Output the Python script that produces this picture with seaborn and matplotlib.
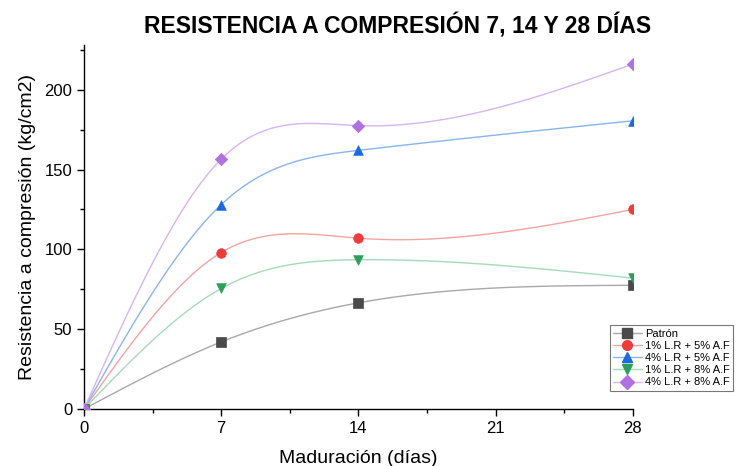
import numpy as np
import pandas as pd
import matplotlib
matplotlib.use("Agg")
import matplotlib.pyplot as plt
import seaborn as sns
from matplotlib.lines import Line2D
from matplotlib.ticker import MultipleLocator

# data
dias = [0, 7, 14, 28]
patron = [0, 42, 66.5, 77.5]
lr1_af5 = [0, 98, 107, 125]
lr4_af5 = [0, 128, 162, 180.5]
lr1_af8 = [0, 75.5, 93.5, 82]
lr4_af8 = [0, 156.5, 177.5, 216]

series = ["Patrón", "1% L.R + 5% A.F", "4% L.R + 5% A.F", "1% L.R + 8% A.F", "4% L.R + 8% A.F"]
valores = [patron, lr1_af5, lr4_af5, lr1_af8, lr4_af8]
marcadores = ["s", "o", "^", "v", "D"]
col_marca = ["#4a4a4a", "#ee3b3b", "#1a6ae0", "#2f9e5c", "#b072e0"]
col_linea = ["#a8a8a8", "#f5a3a3", "#8ab4f0", "#a6dbb8", "#d8b4f2"]


def spline_natural(x, y, n=200):
    # natural cubic spline through the data points (smooth connector like Origin)
    x = np.asarray(x, float)
    y = np.asarray(y, float)
    k = len(x)
    h = np.diff(x)
    A = np.zeros((k, k))
    b = np.zeros(k)
    A[0, 0] = A[-1, -1] = 1
    for i in range(1, k - 1):
        A[i, i - 1] = h[i - 1]
        A[i, i] = 2 * (h[i - 1] + h[i])
        A[i, i + 1] = h[i]
        b[i] = 6 * ((y[i + 1] - y[i]) / h[i] - (y[i] - y[i - 1]) / h[i - 1])
    M = np.linalg.solve(A, b)
    xs = np.linspace(x[0], x[-1], n)
    idx = np.clip(np.searchsorted(x, xs) - 1, 0, k - 2)
    x0, x1 = x[idx], x[idx + 1]
    hh = x1 - x0
    ys = (M[idx] * (x1 - xs) ** 3 / (6 * hh) + M[idx + 1] * (xs - x0) ** 3 / (6 * hh)
          + (y[idx] / hh - M[idx] * hh / 6) * (x1 - xs)
          + (y[idx + 1] / hh - M[idx + 1] * hh / 6) * (xs - x0))
    return xs, ys


sns.set_style("ticks")
plt.rcParams["font.family"] = ["Liberation Sans", "DejaVu Sans"]
plt.rcParams["text.color"] = "black"
plt.rcParams["axes.labelcolor"] = "black"
plt.rcParams["xtick.color"] = "black"
plt.rcParams["ytick.color"] = "black"

fig = plt.figure(figsize=(7.4, 4.66), dpi=100)
ax = fig.add_axes([0.1135, 0.1223, 0.7415, 0.7811])

handles = []
for nombre, vals, m, cm, cl in zip(series, valores, marcadores, col_marca, col_linea):
    xs, ys = spline_natural(dias, vals)
    suave = pd.DataFrame({"x": xs, "y": ys})
    sns.lineplot(data=suave, x="x", y="y", ax=ax, color=cl, lw=1.0, zorder=2)
    puntos = pd.DataFrame({"x": dias, "y": vals})
    sns.scatterplot(data=puntos, x="x", y="y", ax=ax, marker=m, color=cm,
                    s=48 if m != "D" else 40, edgecolor=cm, linewidth=0.5,
                    zorder=3, clip_on=True)
    handles.append(Line2D([0], [0], color=cl, lw=1.0, marker=m, markersize=7,
                          markerfacecolor=cm, markeredgecolor=cm, label=nombre))

ax.set_xlim(0, 28)
ax.set_ylim(0, 228)
ax.xaxis.set_major_locator(MultipleLocator(7))
ax.xaxis.set_minor_locator(MultipleLocator(3.5))
ax.yaxis.set_major_locator(MultipleLocator(50))
ax.yaxis.set_minor_locator(MultipleLocator(25))
ax.tick_params(which="major", length=5, width=1, labelsize=12, direction="out")
ax.tick_params(which="minor", length=3, width=1, direction="out")
sns.despine(ax=ax)
for s in ["left", "bottom"]:
    ax.spines[s].set_linewidth(1.0)
    ax.spines[s].set_color("black")

ax.set_xlabel("Maduración (días)", fontsize=14, labelpad=10)
ax.set_ylabel("Resistencia a compresión (kg/cm2)", fontsize=14, labelpad=6)
fig.suptitle("RESISTENCIA A COMPRESIÓN 7, 14 Y 28 DÍAS", fontsize=16.5, fontweight="bold",
             x=0.537, y=0.972)

leg = ax.legend(handles=handles, loc="lower left", bbox_to_anchor=(0.958, 0.05),
                fontsize=8, frameon=True, fancybox=False, borderpad=0.3,
                labelspacing=0.2, handlelength=2.6, handletextpad=0.3,
                borderaxespad=0)
leg.get_frame().set_edgecolor("#555555")
leg.get_frame().set_linewidth(0.8)

fig.savefig("out.png", dpi=100)
